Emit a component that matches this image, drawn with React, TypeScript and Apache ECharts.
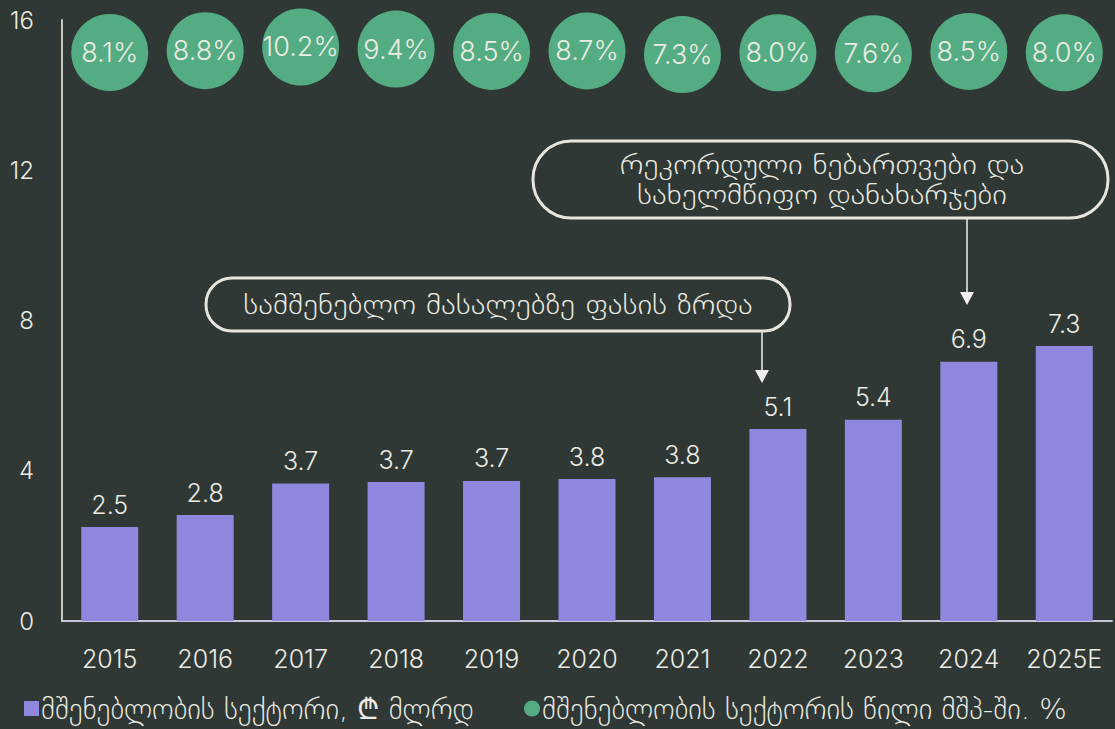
import React, { useEffect, useRef } from "react";
import * as echarts from "echarts";

const categories = ["2015", "2016", "2017", "2018", "2019", "2020", "2021", "2022", "2023", "2024", "2025E"];
const sectorValues = [2.5, 2.82, 3.66, 3.7, 3.73, 3.78, 3.83, 5.11, 5.36, 6.9, 7.32];
const gdpShare = [8.1, 8.8, 10.2, 9.4, 8.5, 8.7, 7.3, 8.0, 7.6, 8.5, 8.0];
const yTicks = [0, 4, 8, 12, 16];
const barName = "მშენებლობის სექტორი, ₾ მლრდ";
const shareName = "მშენებლობის სექტორის წილი მშპ-ში. %";
const note1 = "სამშენებლო მასალებზე ფასის ზრდა";
const note2 = ["რეკორდული ნებართვები და", "სახელმწიფო დანახარჯები"];

const BG = "#2f3834";
const TXT = "#ecece4";
const BAR = "#8f88de";
const DOT = "#54ac82";
const FONT = "Inter, 'DejaVu Sans', sans-serif";
const GEO = "'DejaVu Sans', sans-serif";
const W = 300;

export default function App() {
  const ref = useRef<HTMLDivElement>(null);
  useEffect(() => {
    if (!ref.current) return;
    const chart = echarts.init(ref.current, null, { renderer: "svg" });
    const geoText = (x: number, y: number, text: string) => ({
      type: "text",
      x,
      y,
      scaleX: 1.16,
      style: { text, x: 0, y: 0, fill: TXT, fontSize: 27, fontWeight: 200, fontFamily: GEO, align: "center", verticalAlign: "middle" },
    });
    const legendText = { color: TXT, fontSize: 29, fontWeight: 200, fontFamily: GEO, padding: [0, 0, 0, -3] };
    chart.setOption({
      animation: false,
      backgroundColor: BG,
      textStyle: { fontFamily: FONT, color: TXT },
      grid: { left: 62, right: 3, top: 20, bottom: 108, containLabel: false },
      legend: [
        {
          left: 22,
          top: 692,
          padding: 2,
          itemWidth: 15,
          itemHeight: 15,
          textStyle: legendText,
          data: [{ name: barName, icon: "rect" }],
        },
        {
          left: 522,
          top: 692,
          padding: 2,
          itemWidth: 16,
          itemHeight: 16,
          textStyle: legendText,
          data: [{ name: shareName, icon: "circle" }],
        },
      ],
      xAxis: {
        type: "category",
        data: categories,
        axisLine: { show: true, lineStyle: { color: "#c8c6d8", width: 2 } },
        axisTick: { show: false },
        axisLabel: { color: TXT, fontSize: 25, fontWeight: W, margin: 25, fontFamily: FONT, interval: 0 },
      },
      yAxis: [
        {
          type: "value",
          min: yTicks[0],
          max: yTicks[yTicks.length - 1],
          interval: 4,
          axisLine: { show: true, lineStyle: { color: "#c8c8c0", width: 2 } },
          axisTick: { show: false },
          splitLine: { show: false },
          axisLabel: { color: TXT, fontSize: 24, fontWeight: W, margin: 28, fontFamily: FONT },
        },
        {
          type: "value",
          min: -209,
          max: 20.5,
          show: false,
          splitLine: { show: false },
        },
      ],
      series: [
        {
          name: barName,
          type: "bar",
          data: sectorValues,
          barWidth: 57,
          itemStyle: { color: BAR },
          label: {
            show: true,
            position: "top",
            distance: 10,
            color: TXT,
            fontSize: 25,
            fontWeight: W,
            fontFamily: FONT,
            formatter: (p: any) => Number(p.value).toFixed(1),
          },
        },
        {
          name: shareName,
          type: "scatter",
          yAxisIndex: 1,
          data: gdpShare,
          symbol: "circle",
          symbolSize: 77,
          itemStyle: { color: DOT, opacity: 1 },
          label: {
            show: true,
            position: "inside",
            color: TXT,
            fontSize: 27,
            fontWeight: W,
            fontFamily: FONT,
            formatter: (p: any) => Number(p.value).toFixed(1) + "%",
          },
          z: 3,
        },
      ],
      graphic: [
        {
          type: "rect",
          shape: { x: 206, y: 278, width: 584, height: 53, r: 26 },
          style: { fill: "transparent", stroke: "#e6e6de", lineWidth: 3 },
        },
        geoText(498, 305, note1),
        { type: "line", shape: { x1: 762, y1: 332, x2: 762, y2: 372 }, style: { stroke: "#f0f0f0", lineWidth: 1.5 } },
        { type: "polygon", shape: { points: [[755, 370], [769, 370], [762, 383]] }, style: { fill: "#f0f0f0" } },
        {
          type: "rect",
          shape: { x: 533, y: 141, width: 575, height: 77, r: 38 },
          style: { fill: "transparent", stroke: "#e6e6de", lineWidth: 3 },
        },
        geoText(822, 165, note2[0]),
        geoText(822, 195, note2[1]),
        { type: "line", shape: { x1: 967, y1: 219, x2: 967, y2: 294 }, style: { stroke: "#f0f0f0", lineWidth: 1.5 } },
        { type: "polygon", shape: { points: [[960, 292], [974, 292], [967, 305]] }, style: { fill: "#f0f0f0" } },
      ],
    });
    return () => chart.dispose();
  }, []);
  return (
    <div
      ref={ref}
      style={{ position: "fixed", left: 0, top: 0, width: 1115, height: 729, background: BG }}
    />
  );
}
